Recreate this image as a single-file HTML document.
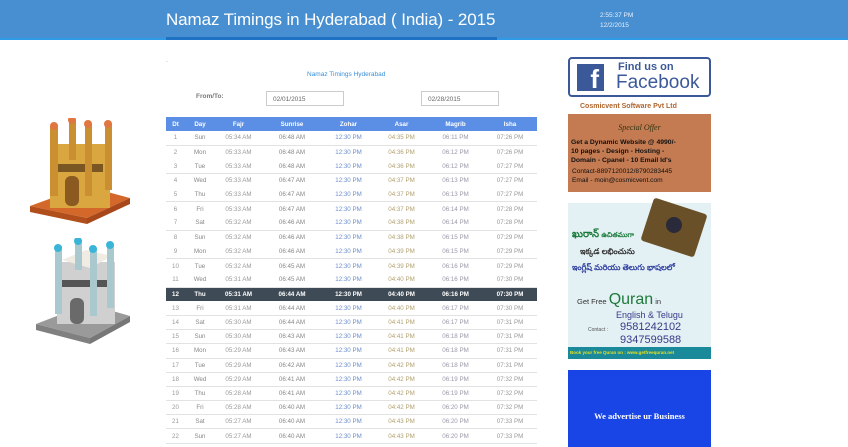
<!DOCTYPE html>
<html><head><meta charset="utf-8">
<style>
*{margin:0;padding:0;box-sizing:border-box}
body{width:848px;height:447px;overflow:hidden;background:#fff;font-family:"Liberation Sans",sans-serif;position:relative}
.abs{position:absolute}
#hdr{left:0;top:0;width:848px;height:40px;background:#478fd0;border-bottom:2px solid #2f9be6}
#title{left:166px;top:10px;color:#fff;font-size:17px;white-space:nowrap;letter-spacing:-0.1px}
#uline{left:166px;top:37px;width:331px;height:3px;background:#1e72c4}
#clock{left:600px;top:11px;color:#e8f0ff;font-size:6.5px;line-height:10px}
table{border-collapse:collapse;font-size:6.2px;color:#888}
td,th{height:14.2px;text-align:center;padding:0}
th{background:#5b8fe6;color:#fff;font-weight:bold;height:14px}
tr.hl td{background:#3e4a55;color:#fff;font-weight:bold}
tr.b td{border-bottom:1px solid #e2e2e2}
.inp{height:15px;border:1px solid #ccc;font-size:6.5px;color:#666;padding:4px 6px}
</style></head><body>
<div id="hdr" class="abs"></div>
<div id="title" class="abs">Namaz Timings in Hyderabad ( India) - 2015</div>
<div id="uline" class="abs"></div>
<div id="clock" class="abs">2:55:37 PM<br>12/2/2015</div>

<div class="abs" style="left:166px;top:57px;font-size:7px;color:#999">.</div>
<div class="abs" style="left:307px;top:71px;font-size:6.5px;color:#3a8fd8">Namaz Timings Hyderabad</div>
<div class="abs" style="left:196px;top:93px;font-size:6.5px;color:#777;font-weight:bold">From/To:</div>
<div class="abs inp" style="left:266px;top:91px;width:78px">02/01/2015</div>
<div class="abs inp" style="left:421px;top:91px;width:78px">02/28/2015</div>

<table id="tbl" class="abs" style="left:166px;top:117px;width:371px">
<colgroup><col style="width:19px"><col style="width:30px"><col style="width:47px"><col style="width:60px"><col style="width:53px"><col style="width:53px"><col style="width:55px"><col style="width:54px"></colgroup>
<thead><tr><th>Dt</th><th>Day</th><th>Fajr</th><th>Sunrise</th><th>Zohar</th><th>Asar</th><th>Magrib</th><th>Isha</th></tr></thead>
<tbody id="tb"></tbody></table>

<svg class="abs" style="left:25px;top:118px" width="110" height="110">
<polygon points="5,88 62,100 105,80 60,68" fill="#d4682a"/>
<polygon points="5,88 62,100 62,106 5,94" fill="#b04e1c"/>
<polygon points="62,100 105,80 105,86 62,106" fill="#a8481a"/>
<rect x="25" y="26" width="60" height="64" fill="#d9a640"/>
<rect x="40" y="58" width="14" height="30" fill="#8a5a20" rx="6"/>
<rect x="28" y="46" width="50" height="8" fill="#7a5622"/>
<g fill="#c98f30"><rect x="25" y="8" width="8" height="70"/><rect x="44" y="2" width="7" height="40"/><rect x="60" y="6" width="7" height="72"/><rect x="80" y="6" width="7" height="66"/></g>
<g fill="#e07640"><circle cx="29" cy="8" r="4"/><circle cx="47" cy="2" r="4"/><circle cx="63" cy="6" r="4"/><circle cx="83" cy="6" r="4"/></g>
</svg>
<svg class="abs" style="left:30px;top:238px" width="110" height="110">
<polygon points="6,86 60,100 100,78 58,66" fill="#9a9a9a"/>
<polygon points="6,86 60,100 60,106 6,92" fill="#808080"/>
<polygon points="60,100 100,78 100,84 60,106" fill="#777"/>
<rect x="27" y="24" width="58" height="62" fill="#d0d0d0"/>
<polygon points="32,22 60,30 82,18 56,12" fill="#f0ece4"/>
<rect x="40" y="60" width="14" height="26" fill="#6a6a6a" rx="6"/>
<rect x="30" y="42" width="50" height="7" fill="#555"/>
<g fill="#a9c9cf"><rect x="25" y="8" width="7" height="68"/><rect x="45" y="2" width="7" height="30"/><rect x="60" y="10" width="7" height="68"/><rect x="77" y="6" width="7" height="64"/></g>
<g fill="#3ab5d8"><circle cx="28" cy="10" r="4"/><circle cx="48" cy="3" r="4"/><circle cx="63" cy="11" r="4"/><circle cx="80" cy="7" r="4"/></g>
</svg>

<div class="abs" style="left:568px;top:57px;width:143px;height:40px;border:2px solid #3b5998;border-radius:4px;background:#fff">
<div class="abs" style="left:7px;top:5px;width:27px;height:27px;background:#3b5998;color:#fff;font-size:26px;font-weight:bold;text-align:right;padding-right:5px;line-height:30px">f</div>
<div class="abs" style="left:48px;top:2px;font-size:11px;color:#3b5998;font-weight:bold;white-space:nowrap">Find us on</div>
<div class="abs" style="left:46px;top:13px;font-size:19px;color:#3b5998;white-space:nowrap">Facebook</div>
</div>
<div class="abs" style="left:580px;top:103px;font-size:7px;color:#b0652d;font-weight:bold">Cosmicvent Software Pvt Ltd</div>
<div class="abs" style="left:568px;top:114px;width:143px;height:78px;background:#c47b52;color:#111">
<div style="text-align:center;font-family:'Liberation Serif',serif;font-style:italic;font-size:8px;margin-top:9px;color:#331">Special Offer</div>
<div style="font-size:6.8px;font-weight:bold;padding-left:3px;margin-top:6px;line-height:9px">Get a Dynamic Website @ 4990/-<br>10 pages - Design - Hosting -<br>Domain - Cpanel - 10 Email Id's</div>
<div style="font-size:6.6px;padding-left:4px;margin-top:3px;line-height:8.5px">Contact-8897120012/8790283445<br>Email - moin@cosmicvent.com</div>
</div>
<div class="abs" style="left:568px;top:203px;width:143px;height:156px;background:#e3f0f4">
<div class="abs" style="left:78px;top:2px;width:56px;height:45px;background:#6a5028;transform:rotate(18deg);border-radius:3px"></div>
<div class="abs" style="left:98px;top:14px;width:16px;height:16px;background:#2a2a3a;border-radius:50%"></div>
<div class="abs" style="left:4px;top:22px;font-size:10px;color:#1a7a3a;font-weight:bold;font-family:'Noto Sans CJK SC',sans-serif">ఖురాన్ <span style="font-size:7px">ఉచితముగా</span></div>
<div class="abs" style="left:12px;top:44px;font-size:8px;color:#333;font-weight:bold">ఇక్కడ లభించును</div>
<div class="abs" style="left:4px;top:60px;font-size:8px;color:#3040a0;font-weight:bold">ఇంగ్లీష్ మరియు తెలుగు భాషలలో</div>
<div class="abs" style="left:9px;top:88px;font-size:7.5px;color:#333;white-space:nowrap">Get Free <span style="font-size:16px;color:#1f7a3a">Quran</span> in</div>
<div class="abs" style="left:48px;top:107px;font-size:9px;color:#3a3a88">English &amp; Telugu</div>
<div class="abs" style="left:20px;top:124px;font-size:5px;color:#555">Contact :</div>
<div class="abs" style="left:52px;top:118px;font-size:11px;color:#3a3a88;line-height:13px">9581242102<br>9347599588</div>
<div class="abs" style="left:0;top:144px;width:143px;height:12px;background:#1a8a9a;color:#e8e020;font-size:4.5px;font-weight:bold;padding:3px 2px;white-space:nowrap">Book your free Quran on : www.getfreequran.net</div>
</div>
<div class="abs" style="left:568px;top:370px;width:143px;height:77px;background:#1945e6;color:#fff;font-family:'Liberation Serif',serif;font-weight:bold;font-size:8.5px;text-align:center;padding-top:41px">We advertise ur Business</div>

<script>
const dates=[1,2,3,4,5,6,7,8,9,10,11,12,13,14,15,16,17,18,19,20,21,22];
const days=["Sun","Mon","Tue","Wed","Thu","Fri","Sat","Sun","Mon","Tue","Wed","Thu","Fri","Sat","Sun","Mon","Tue","Wed","Thu","Fri","Sat","Sun"];
const fajr=["05:34","05:33","05:33","05:33","05:33","05:33","05:32","05:32","05:32","05:32","05:31","05:31","05:31","05:30","05:30","05:29","05:29","05:29","05:28","05:28","05:27","05:27"];
const sunrise=["06:48","06:48","06:48","06:47","06:47","06:47","06:46","06:46","06:46","06:45","06:45","06:44","06:44","06:44","06:43","06:43","06:42","06:41","06:41","06:40","06:40","06:40"];
const zohar=["12:30","12:30","12:30","12:30","12:30","12:30","12:30","12:30","12:30","12:30","12:30","12:30","12:30","12:30","12:30","12:30","12:30","12:30","12:30","12:30","12:30","12:30"];
const asar=["04:35","04:36","04:36","04:37","04:37","04:37","04:38","04:38","04:39","04:39","04:40","04:40","04:40","04:41","04:41","04:41","04:42","04:42","04:42","04:42","04:43","04:43"];
const magrib=["06:11","06:12","06:12","06:13","06:13","06:14","06:14","06:15","06:15","06:16","06:16","06:16","06:17","06:17","06:18","06:18","06:18","06:19","06:19","06:20","06:20","06:20"];
const isha=["07:26","07:26","07:27","07:27","07:27","07:28","07:28","07:29","07:29","07:29","07:30","07:30","07:30","07:31","07:31","07:31","07:31","07:32","07:32","07:32","07:33","07:33"];
const highlightDate=12;
const tb=document.getElementById('tb');
const cols=[["#999"],["#888"],["#999"," AM"],["#888"," AM"],["#6a8ed0"," PM"],["#b0a070"," PM"],["#99a"," PM"],["#999"," PM"]];
for(let i=0;i<dates.length;i++){
  const tr=document.createElement('tr');
  
  
  if(dates[i]===highlightDate)tr.className='hl';
  else if(i%2===0||dates[i]>=12)tr.className='b';
  const vals=[dates[i],days[i],fajr[i],sunrise[i],zohar[i],asar[i],magrib[i],isha[i]];
  vals.forEach((v,j)=>{
    const td=document.createElement('td');
    td.textContent=v+(cols[j][1]||'');
    if(dates[i]!==highlightDate)td.style.color=cols[j][0];
    tr.appendChild(td);
  });
  tb.appendChild(tr);
}
</script>
</body></html>
